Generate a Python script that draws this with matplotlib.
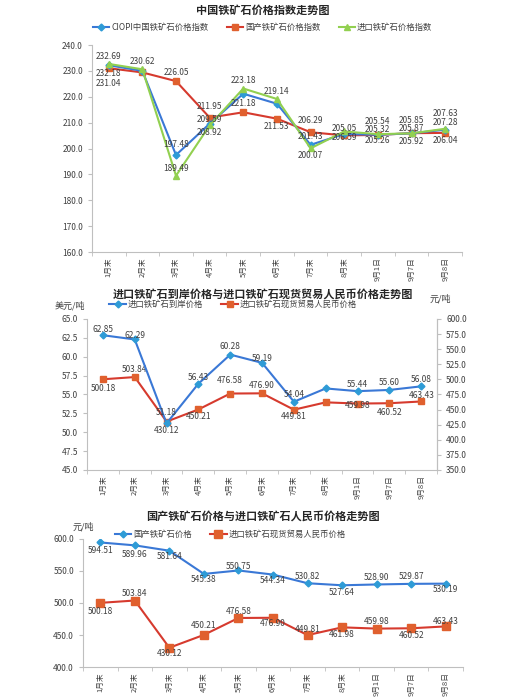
import matplotlib
matplotlib.use("Agg")
import matplotlib.pyplot as plt
from matplotlib.ticker import FormatStrFormatter, FixedLocator

plt.rcParams['font.family'] = ['Noto Sans CJK SC', 'DejaVu Sans']

categories = ["1月末", "2月末", "3月末", "4月末", "5月末", "6月末", "7月末", "8月末", "9月1日", "9月7日", "9月8日"]

# Chart 1: indices
ciopi = [232.18, 230.0, 197.48, 209.59, 221.18, 217.3, 201.43, 205.6, 205.32, 205.87, 207.28]
domestic_idx = [231.04, 229.4, 226.05, 211.95, 214.0, 211.53, 206.29, 205.05, 205.26, 205.92, 206.04]
import_idx = [232.69, 230.62, 189.49, 208.92, 223.18, 219.14, 200.07, 206.59, 205.54, 205.85, 207.63]

# Chart 2
import_cif_usd = [62.85, 62.29, 51.18, 56.43, 60.28, 59.19, 54.04, 55.8, 55.44, 55.60, 56.08]
import_spot_rmb = [500.18, 503.84, 430.12, 450.21, 476.58, 476.90, 449.81, 461.98, 459.98, 460.52, 463.43]

# Chart 3
domestic_price = [594.51, 589.96, 581.64, 545.38, 550.75, 544.34, 530.82, 527.64, 528.90, 529.87, 530.19]

BLUE = "#3A78D6"
BLUE_M = "#2E9BD6"
RED = "#D63A2E"
RED_M = "#E0602E"
GREEN = "#92D050"
GRAY = "#BFBFBF"
TXT = "#404040"

fig = plt.figure(figsize=(5.25, 7.0), dpi=100)
x = list(range(len(categories)))

def style_axes(ax, right=False):
    ax.spines["top"].set_visible(False)
    ax.spines["right"].set_visible(right)
    for s in ["left", "bottom", "right"]:
        ax.spines[s].set_color(GRAY)
        ax.spines[s].set_linewidth(0.8)
    ax.set_xlim(-0.5, len(categories) - 0.5)
    ax.set_xticks(x)
    ax.set_xticklabels(categories, rotation=90, fontsize=5.5, color=TXT)
    ax.xaxis.set_minor_locator(FixedLocator([i - 0.5 for i in range(len(categories) + 1)]))
    ax.tick_params(axis="x", which="major", length=0, pad=4)
    ax.tick_params(axis="x", which="minor", length=3, color=GRAY)
    ax.tick_params(axis="y", labelsize=6, colors=TXT, length=3, color=GRAY)
    ax.yaxis.set_major_formatter(FormatStrFormatter("%.1f"))

def labels(ax, ys, offs):
    # offs: pixel offset (up positive) per point, None = no label
    for i, yi in enumerate(ys):
        dy = offs[i]
        if dy is None:
            continue
        ax.annotate(f"{yi:.2f}", (x[i], yi), xytext=(0, dy), textcoords="offset pixels",
                    ha="center", va="center", fontsize=6, color=TXT, zorder=6)

LEG = dict(frameon=False, fontsize=6, handlelength=2.0, handletextpad=0.2, labelcolor=TXT)

# ---------- Chart 1 ----------
ax1 = fig.add_axes([0.175, 0.64, 0.705, 0.2957])
ax1.plot(x, ciopi, color=BLUE, lw=1.5, marker="D", ms=3.5, mfc=BLUE_M, mec=BLUE_M, label="CIOPI中国铁矿石价格指数", zorder=3)
ax1.plot(x, domestic_idx, color=RED, lw=1.5, marker="s", ms=5, mfc=RED_M, mec=RED_M, label="国产铁矿石价格指数", zorder=2)
ax1.plot(x, import_idx, color=GREEN, lw=1.5, marker="^", ms=5, mfc=GREEN, mec=GREEN, label="进口铁矿石价格指数", zorder=4)
ax1.set_ylim(160, 240)
ax1.set_yticks(range(160, 241, 10))
style_axes(ax1)
labels(ax1, ciopi, [-8, None, 11, 4, -10, None, 8, None, 5, 5, 7])
labels(ax1, domestic_idx, [-15, None, 9, 11, None, -8, 12, 7, -6, -8, -8])
labels(ax1, import_idx, [7, 8, 7, -7, 8, 7, -7, -6, 13, 13, 15])
fig.text(0.5, 1 - 10 / 700, "中国铁矿石价格指数走势图", ha="center", va="center", fontsize=8, fontweight="bold", color="#262626")
ax1.legend(loc="center", bbox_to_anchor=(0.5, 1 - 27 / 700), bbox_transform=fig.transFigure, ncol=3,
           columnspacing=2.2, **LEG)

# ---------- Chart 2 ----------
ax2 = fig.add_axes([0.1657, 0.3286, 0.667, 0.2157])
ax2r = ax2.twinx()
ax2.plot(x, import_cif_usd, color=BLUE, lw=1.5, marker="D", ms=3.5, mfc=BLUE_M, mec=BLUE_M, label="进口铁矿石到岸价格", zorder=3)
ax2r.plot(x, import_spot_rmb, color=RED, lw=1.5, marker="s", ms=5, mfc=RED_M, mec=RED_M, label="进口铁矿石现货贸易人民币价格", zorder=2)
ax2.set_ylim(45, 65)
ax2.set_yticks([45 + 2.5 * i for i in range(9)])
ax2r.set_ylim(350, 600)
ax2r.set_yticks(range(350, 601, 25))
style_axes(ax2, right=True)
for s in ["top", "left", "bottom"]:
    ax2r.spines[s].set_visible(False)
ax2r.spines["right"].set_color(GRAY)
ax2r.spines["right"].set_linewidth(0.8)
ax2r.tick_params(axis="y", labelsize=6, colors=TXT, length=3, color=GRAY)
ax2r.yaxis.set_major_formatter(FormatStrFormatter("%.1f"))
ax2.set_zorder(ax2r.get_zorder() + 1)
ax2.patch.set_visible(False)
labels(ax2, import_cif_usd, [6, 4, 11, 6, 8, 4, 7, None, 7, 7, 7])
labels(ax2r, import_spot_rmb, [-9, 8, -9, -7, 13, 8, -7, None, -2, -9, 6])
fig.text(0.5, 1 - 294 / 700, "进口铁矿石到岸价格与进口铁矿石现货贸易人民币价格走势图", ha="center", va="center",
         fontsize=8, fontweight="bold", color="#262626")
fig.text(70 / 525, 1 - 306 / 700, "美元/吨", ha="center", va="center", fontsize=6.5, color=TXT)
fig.text(440 / 525, 1 - 299 / 700, "元/吨", ha="center", va="center", fontsize=6.5, color=TXT)
h1, l1 = ax2.get_legend_handles_labels()
h2, l2 = ax2r.get_legend_handles_labels()
ax2.legend(h1 + h2, l1 + l2, loc="center", bbox_to_anchor=(233 / 525, 1 - 304 / 700), bbox_transform=fig.transFigure,
           ncol=2, columnspacing=2.2, **LEG)

# ---------- Chart 3 ----------
ax3 = fig.add_axes([0.158, 0.0471, 0.724, 0.183])
ax3.plot(x, domestic_price, color=BLUE, lw=1.5, marker="D", ms=3.5, mfc=BLUE_M, mec=BLUE_M, label="国产铁矿石价格", zorder=3)
ax3.plot(x, import_spot_rmb, color=RED, lw=1.5, marker="s", ms=5.5, mfc=RED_M, mec=RED_M, label="进口铁矿石现货贸易人民币价格", zorder=2)
ax3.set_ylim(400, 600)
ax3.set_yticks(range(400, 601, 50))
style_axes(ax3)
labels(ax3, domestic_price, [-8, -9, -6, -6, 4, -6, 7, -7, 7, 7, -6])
labels(ax3, import_spot_rmb, [-9, 7, -6, 9, 6, -6, 6, -7, 7, -7, 5])
fig.text(0.5, 1 - 516 / 700, "国产铁矿石价格与进口铁矿石人民币价格走势图", ha="center", va="center",
         fontsize=8, fontweight="bold", color="#262626")
fig.text(83 / 525, 1 - 527 / 700, "元/吨", ha="center", va="center", fontsize=6.5, color=TXT)
ax3.legend(loc="center", bbox_to_anchor=(230 / 525, 1 - 534 / 700), bbox_transform=fig.transFigure,
           ncol=2, columnspacing=2.2, **LEG)

fig.savefig("out.png", dpi=100)
